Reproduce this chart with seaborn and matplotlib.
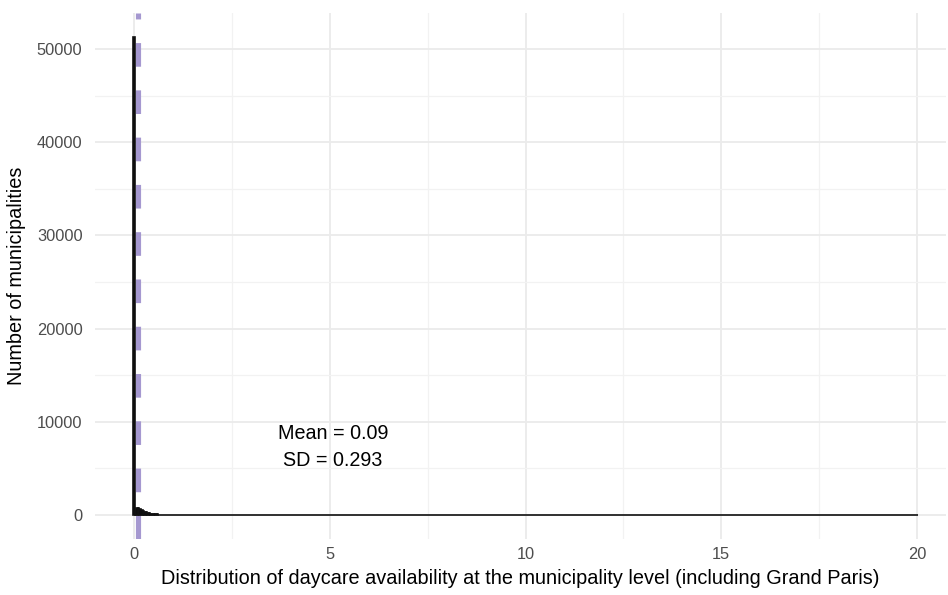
import numpy as np
import pandas as pd
import matplotlib
matplotlib.use("Agg")
import matplotlib.pyplot as plt
import seaborn as sns
from matplotlib.ticker import MultipleLocator

# ---- data ----
bump_x = [0.00, 0.04, 0.08, 0.12, 0.16, 0.20, 0.24, 0.28, 0.32, 0.36, 0.40,
          0.44, 0.48, 0.52, 0.56, 0.60, 0.64, 0.68, 0.72, 0.76, 0.80, 0.84,
          0.88, 0.92, 0.96, 1.00]
bump_n = [51300, 430, 700, 730, 650, 540, 440, 350, 280, 220, 170,
          135, 110, 88, 70, 56, 46, 38, 32, 28, 24, 21,
          18, 16, 14, 12]
tail_x = [1.08, 1.2, 1.32, 1.4, 1.52, 1.6, 1.72, 1.8, 1.92, 2.0, 2.12, 2.2,
          2.32, 2.4, 2.52, 2.6, 2.72, 2.8, 2.96, 3.04, 3.2, 3.36, 3.52, 3.72,
          3.8, 3.92, 4.08, 4.2, 4.32, 4.48, 4.6, 4.72, 4.88, 5.0, 5.28, 5.72,
          5.96, 6.16, 6.32, 7.48, 8.2, 9.0, 9.48, 10.0, 18.0, 19.0, 19.96]
tail_n = [10, 9, 8, 7, 7, 6, 5, 5, 4, 4, 4, 3,
          3, 3, 3, 2, 2, 2, 2, 2, 2, 1, 2, 1,
          1, 2, 1, 1, 1, 1, 1, 1, 1, 1, 1, 1,
          1, 1, 1, 1, 1, 1, 1, 1, 1, 1, 1]
mean_val = 0.09
sd_val = 0.293

df = pd.DataFrame({"value": bump_x + tail_x,
                   "count": np.array(bump_n + tail_n, dtype=float)})

# ---- style ----
sns.set_theme(style="white")
plt.rcParams["font.family"] = ["Liberation Sans", "DejaVu Sans"]

fig = plt.figure(figsize=(9.48, 5.95), dpi=100)
ax = fig.add_axes([95 / 948, 1 - 539 / 595, (946 - 95) / 948, (539 - 13) / 595])

edges = [round(-0.02 + 0.04 * i, 4) for i in range(502)]
sns.histplot(x=df["value"].to_numpy(), weights=df["count"].to_numpy(),
             bins=edges, color="black", edgecolor="#111111", linewidth=1.2,
             alpha=1.0, ax=ax, zorder=3)

ax.axvline(mean_val, color="#A598D0", lw=3.7, ls=(0, (4.6, 4.6)), zorder=2)

ax.text(5.08, 7300, f"Mean = {mean_val}\nSD = {sd_val}", ha="center", va="center",
        fontsize=14.2, color="black", linespacing=1.55, zorder=4)

ax.set_xlim(-0.996, 20.74)
ax.set_ylim(-2575, 53863)
ax.xaxis.set_major_locator(MultipleLocator(5))
ax.xaxis.set_minor_locator(MultipleLocator(2.5))
ax.yaxis.set_major_locator(MultipleLocator(10000))
ax.yaxis.set_minor_locator(MultipleLocator(5000))
ax.grid(which="major", color="#EBEBEB", lw=1.3, zorder=0)
ax.grid(which="minor", color="#F2F2F2", lw=0.9, zorder=0)
ax.set_axisbelow(True)
for s in ax.spines.values():
    s.set_visible(False)
ax.tick_params(which="both", length=0, labelsize=11.8, labelcolor="#4D4D4D", pad=9)
ax.tick_params(axis="x", pad=6)

ax.set_xlabel("Distribution of daycare availability at the municipality level (including Grand Paris)",
              fontsize=14.3, color="black", labelpad=5)
ax.set_ylabel("Number of municipalities", fontsize=14.3, color="black", labelpad=8)

fig.savefig("out.png", dpi=100)
